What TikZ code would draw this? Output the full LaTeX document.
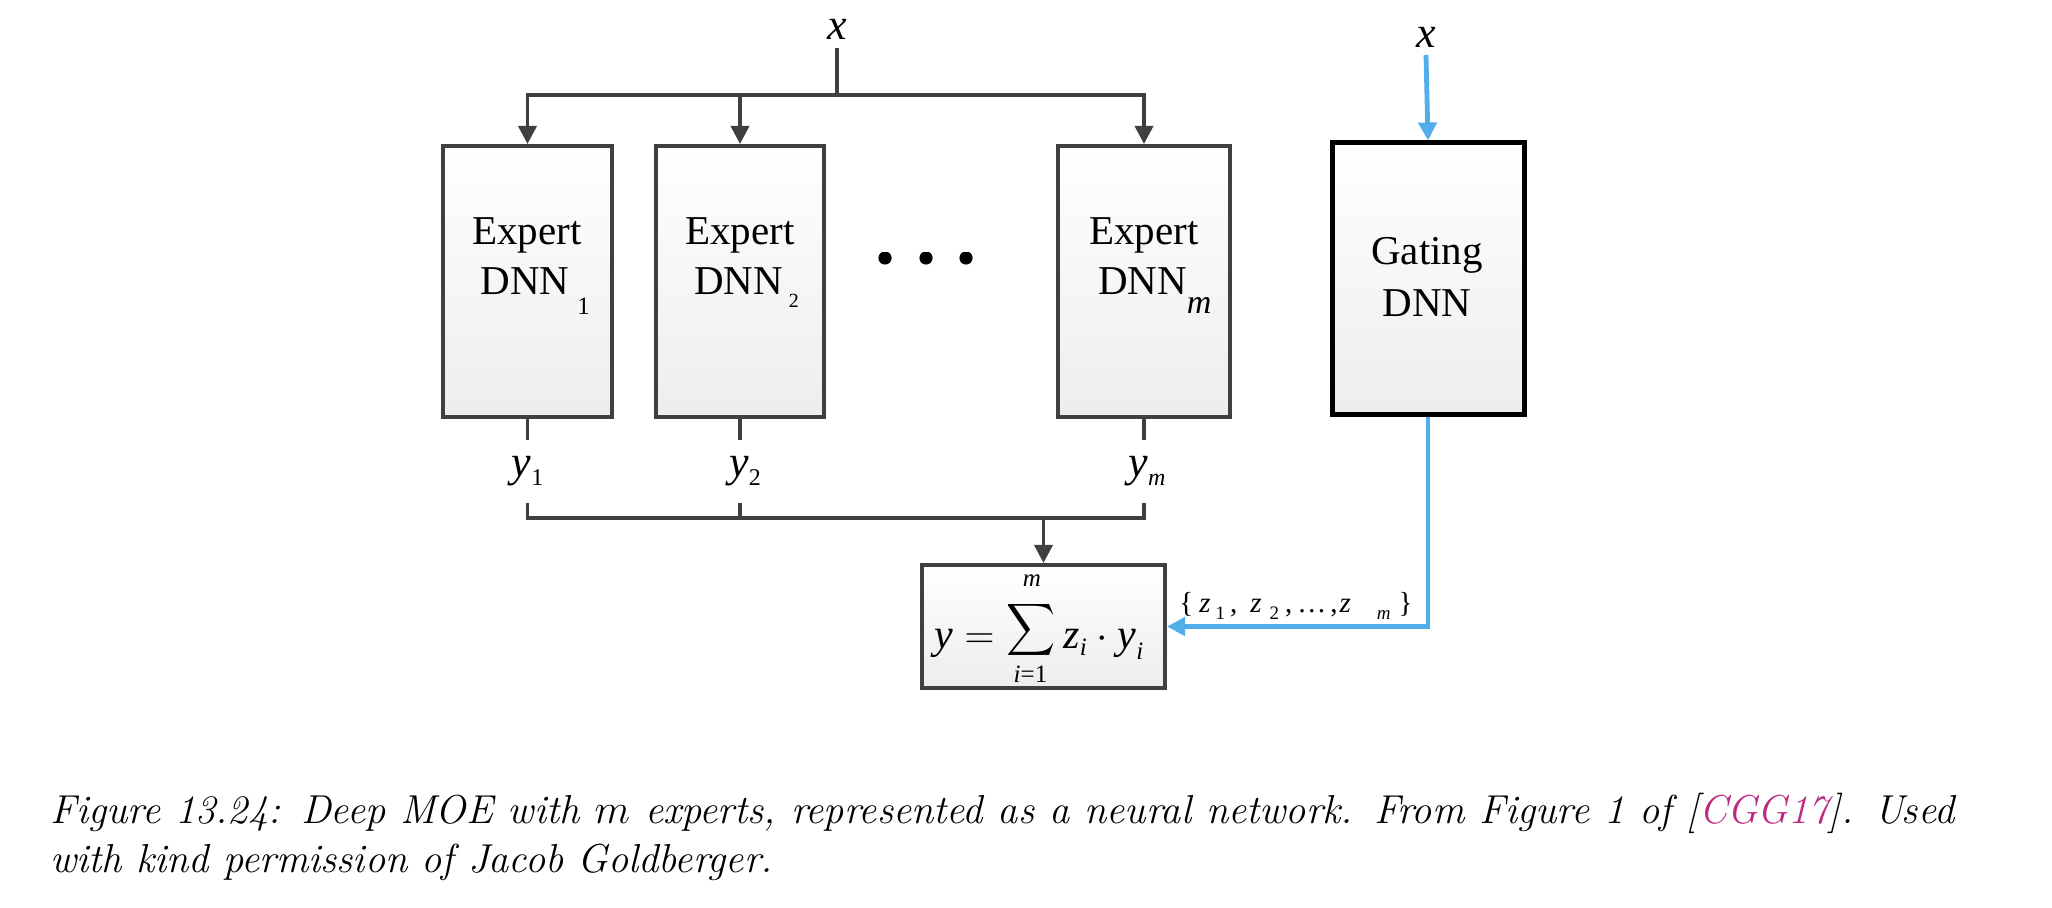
\documentclass[tikz,border=0pt]{standalone}
\usepackage{graphicx}
\usepackage{fontspec}
\newfontfamily\tnr{Liberation Serif}
\usetikzlibrary{arrows.meta,shadows}
\definecolor{dk}{RGB}{64,64,64}
\definecolor{bl}{RGB}{80,174,234}
\definecolor{citec}{RGB}{190,40,128}
\newcommand{\ti}[1]{{\tnr\itshape #1}}
\newcommand{\mi}[1]{\mbox{\tnr\itshape #1}}
\newcommand{\smi}[1]{\mbox{\tnr\itshape\fontsize{12.5}{12.5}\selectfont #1}}
\newcommand{\zsub}[1]{\raisebox{-3.5pt}{\tnr\fontsize{9.5}{10}\selectfont #1}}
\begin{document}
\begin{tikzpicture}[x=0.5pt,y=-0.5pt,
  box/.style={draw=dk,line width=2pt,top color=white,bottom color=black!7,
    drop shadow={shadow xshift=1.2pt,shadow yshift=-1.2pt,opacity=0.2},inner sep=0pt},
  gbox/.style={box,draw=black,line width=2.5pt},
  dkl/.style={draw=dk,line width=1.8pt},
  bll/.style={draw=bl,line width=2.4pt},
  tip/.style={-{Triangle[width=9pt,length=9pt]}},
  txt/.style={font=\tnr\fontsize{20.5}{25}\selectfont,inner sep=0pt,anchor=base},
  mth/.style={font=\tnr\itshape\fontsize{22}{26}\selectfont,inner sep=0pt},
  fml/.style={font=\tnr\fontsize{21}{24}\selectfont,inner sep=0pt},
  lim/.style={font=\tnr\fontsize{12.5}{13}\selectfont,inner sep=0pt,anchor=base},
  captxt/.style={font=\fontsize{20.2}{25}\selectfont\itshape,inner sep=0pt,anchor=base west},
]
\useasboundingbox (0,0) rectangle (2052,908);

% boxes
\node[box,minimum width=84.5pt,minimum height=135.5pt] (e1) at (527.5,281.5) {};
\node[box,minimum width=84pt,minimum height=135.5pt] (e2) at (740,281.5) {};
\node[box,minimum width=86pt,minimum height=135.5pt] (em) at (1144,281.5) {};
\node[gbox,minimum width=96pt,minimum height=136pt] (g) at (1428,279) {};
\node[box,minimum width=121.5pt,minimum height=61.5pt] (sum) at (1043.5,626.5) {};

% box texts
\node[txt] (e1a) at (527,245) {Expert};
\node[txt] (e1b) at (525,295) {DNN\rlap{\hspace{4pt}\raisebox{-10pt}{\fontsize{12.5}{12.5}\selectfont 1}}};
\node[txt] (e2a) at (740,245) {Expert};
\node[txt] (e2b) at (738.5,295) {DNN\rlap{\hspace{3pt}\raisebox{-6.5pt}{\fontsize{10}{10}\selectfont 2}}};
\node[txt] (ema) at (1144,245) {Expert};
\node[txt] (emb) at (1142.5,295) {DNN\rlap{\raisebox{-9.5pt}{\itshape\fontsize{17}{17}\selectfont m}}};
\node[txt] (ga) at (1427,265) {Gating};
\node[txt] (gb) at (1427,317) {DNN};

% dots
\begin{scope}
\clip (850,253) rectangle (1000,272);
\fill (885,258) circle (3.3pt);
\fill (926,258) circle (3.3pt);
\fill (966,258) circle (3.3pt);
\end{scope}

% inputs
\node[mth,anchor=base,outer sep=4pt] (xin) at (837,40) {x};
\node[mth,anchor=base,outer sep=3.5pt] (xg) at (1426,48) {x};
\coordinate (bus) at (837,95);
\draw[dkl,tip] (xin.south) -- (bus) -| (e1.north);
\draw[dkl,tip] (bus) -| (em.north);
\draw[dkl,tip] (e2.north |- bus) -- (e2.north);
\draw[bll,tip] (xg.south) -- (g.north);

% outputs
\node[mth,minimum height=31.5pt] (y1) at (527.5,471.5) {y\raisebox{-4.5pt}{\tnr\upshape\fontsize{12}{12}\selectfont 1}};
\node[mth,minimum height=31.5pt] (y2) at (745,471.5) {y\raisebox{-4.5pt}{\tnr\upshape\fontsize{12}{12}\selectfont 2}};
\node[mth,minimum height=31.5pt] (ym) at (1147,471.5) {y\raisebox{-4.5pt}{\tnr\itshape\fontsize{12}{12}\selectfont m}};
\draw[dkl] (e1.south) -- (e1.south |- y1.north);
\draw[dkl] (e2.south) -- (e2.south |- y2.north);
\draw[dkl] (em.south) -- (em.south |- ym.north);
\coordinate (lb) at (1043.5,518);
\draw[dkl] (e1.south |- y1.south) |- (lb) -| (em.south |- ym.south);
\draw[dkl] (e2.south |- y2.south) -- (e2.south |- lb);
\draw[dkl,tip] (lb) -- (sum.north);

% formula
\node[fml,anchor=base west] (fa) at (934,649) {$\mi{y} =$};
\node[inner sep=0pt] (fsig) at (1031,629.5) {\scalebox{1.7}[1.82]{$\displaystyle\sum$}};
\node[lim] (fm) at (1032,587) {\itshape m};
\node[lim] (fi) at (1030.5,683) {\itshape i\upshape =1};
\node[fml,anchor=base west] (fr) at (1063,649) {$\mi{z}_{\smi{i}}\cdot \mi{y}_{\smi{i}}$};

% gating output
\draw[bll,tip] (g.south) |- (sum.east);
\node[font=\tnr\fontsize{14.5}{16}\selectfont,inner sep=0pt,anchor=base west] (zl) at (1179,613)
  {\{\hspace{3pt}\ti{z}\hspace{2.5pt}\zsub{1}\hspace{2.5pt},\hspace{6.5pt}\ti{z}\hspace{4pt}\zsub{2}\hspace{3pt},\hspace{2.5pt}\ldots\hspace{2pt},\hspace{1pt}\ti{z}\hspace{13pt}\zsub{\itshape m}\hspace{4pt}\}};

% caption
\node[captxt] (cap1) at (50,823) {\makebox[952pt][s]{Figure 13.24: Deep MOE with $m$ experts, represented as a neural network. From Figure 1 of [\textcolor{citec}{CGG17}]. Used}};
\node[captxt] (cap2) at (50,872) {with kind permission of Jacob Goldberger.};
\end{tikzpicture}
\end{document}
